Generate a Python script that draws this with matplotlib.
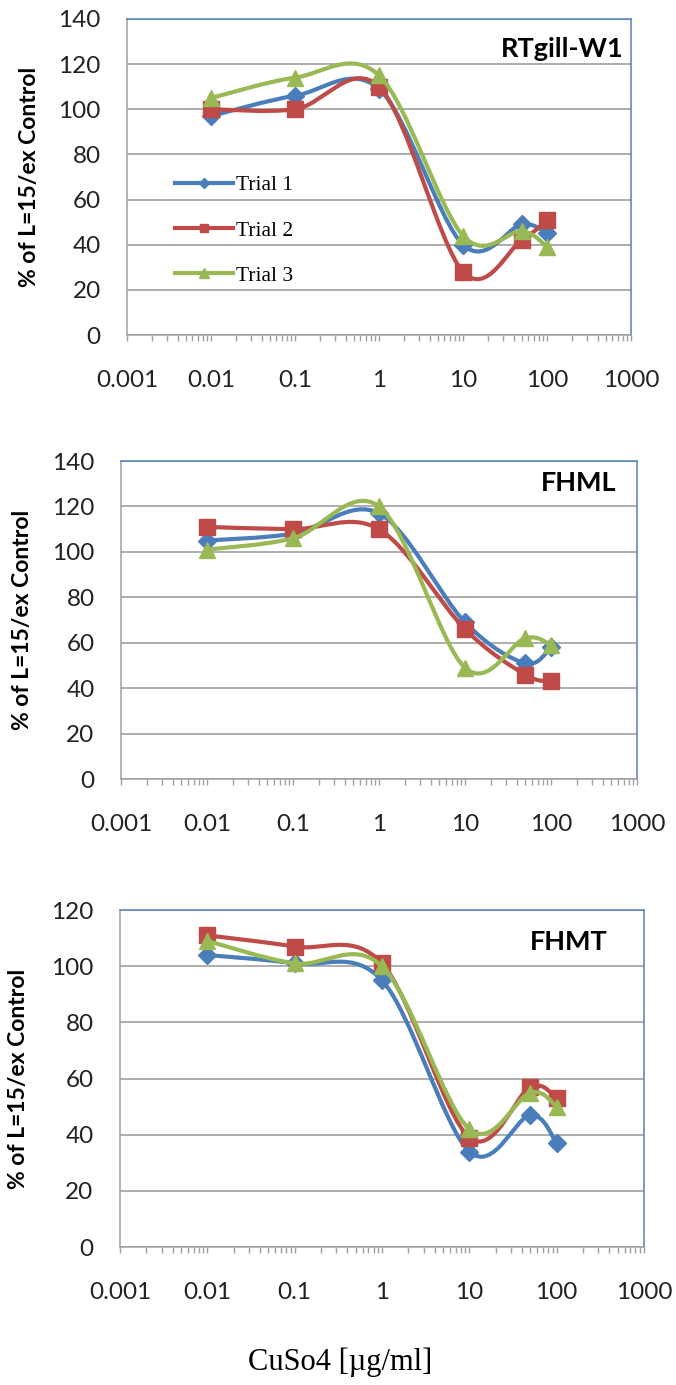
import numpy as np
import matplotlib
matplotlib.use("Agg")
from matplotlib import pyplot as plt
from matplotlib.path import Path
from matplotlib.patches import PathPatch
from matplotlib.lines import Line2D
from matplotlib.ticker import FixedLocator, NullFormatter

conc = [0.01, 0.1, 1, 10, 50, 100]

# RTgill-W1
rt_trial1 = [97, 106, 109, 40, 49, 45]
rt_trial2 = [100, 100, 110, 28, 42, 51]
rt_trial3 = [105, 114, 115, 44, 46, 39]

# FHML
fhml_trial1 = [105, 108, 117, 69, 51, 58]
fhml_trial2 = [111, 110, 110, 66, 46, 43]
fhml_trial3 = [101, 106, 120, 49, 62, 59]

# FHMT
fhmt_trial1 = [104, 101, 95, 34, 47, 37]
fhmt_trial2 = [111, 107, 101, 39, 57, 53]
fhmt_trial3 = [109, 101, 100, 42, 55, 50]

xticks = [0.001, 0.01, 0.1, 1, 10, 100, 1000]
xticklabels = ["0.001", "0.01", "0.1", "1", "10", "100", "1000"]
trial_names = ["Trial 1", "Trial 2", "Trial 3"]

colors = ["#4a7ebb", "#be4b48", "#98b954"]
markers = ["D", "s", "^"]
msizes = [9, 11, 12]

TICK_FONT = "Lato"
SERIF = "Liberation Serif"


def smooth_path(x, y):
    # catmull-rom style bezier through the points, built in log-x space
    u = np.log10(np.asarray(x, dtype=float))
    v = np.asarray(y, dtype=float)
    n = len(u)
    verts = [(x[0], y[0])]
    codes = [Path.MOVETO]
    for i in range(n - 1):
        i0 = max(i - 1, 0)
        i3 = min(i + 2, n - 1)
        c1u = u[i] + (u[i + 1] - u[i0]) / 6
        c1v = v[i] + (v[i + 1] - v[i0]) / 6
        c2u = u[i + 1] - (u[i3] - u[i]) / 6
        c2v = v[i + 1] - (v[i3] - v[i]) / 6
        verts += [(10 ** c1u, c1v), (10 ** c2u, c2v), (x[i + 1], y[i + 1])]
        codes += [Path.CURVE4] * 3
    return Path(verts, codes)


def draw_panel(ax, series, ymax, title, title_xy, label_x):
    ax.set_xscale("log")
    ax.set_xlim(0.001, 1000)
    ax.set_ylim(0, ymax)
    ax.set_yticks(np.arange(0, ymax + 1, 20))
    ax.yaxis.grid(True, color="#a0a0a0", lw=1.2)
    ax.set_axisbelow(True)

    for k, ys in enumerate(series):
        ax.add_patch(PathPatch(smooth_path(conc, ys), fill=False,
                               edgecolor=colors[k], lw=3.0,
                               capstyle="round", joinstyle="round",
                               zorder=3 + k))
        ax.plot(conc, ys, linestyle="none", marker=markers[k],
                ms=msizes[k], color=colors[k], mec=colors[k], zorder=3 + k)

    ax.xaxis.set_major_locator(FixedLocator(xticks))
    ax.set_xticklabels(xticklabels)
    ax.xaxis.set_minor_formatter(NullFormatter())
    ax.tick_params(axis="x", which="both", direction="out", length=4,
                   width=1, color="#a0a0a0", pad=21, labelsize=17.5)
    ax.tick_params(axis="y", length=0, pad=19, labelsize=17.5)
    for lab in ax.get_xticklabels() + ax.get_yticklabels():
        lab.set_fontfamily(TICK_FONT)
        lab.set_color("#222222")

    ax.spines["left"].set_color("#a0a0a0")
    ax.spines["bottom"].set_color("#a0a0a0")
    ax.spines["top"].set_color("#4f81bd")
    ax.spines["right"].set_color("#4f81bd")
    for s in ax.spines.values():
        s.set_linewidth(1.1)

    ax.set_ylabel("% of L=15/ex Control", fontfamily=TICK_FONT,
                  fontweight="bold", fontsize=16.5)
    ax.yaxis.set_label_coords(label_x, 0.5)
    ax.text(title_xy[0], title_xy[1], title, transform=ax.transAxes,
            ha="right", va="center", fontfamily=TICK_FONT,
            fontweight="bold", fontsize=19.5)


fig = plt.figure(figsize=(6.76, 13.85), dpi=100)

ax1 = fig.add_axes([0.1879, 0.7581, 0.7456, 0.2282])
ax2 = fig.add_axes([0.1790, 0.4375, 0.7633, 0.2296])
ax3 = fig.add_axes([0.1775, 0.0996, 0.7751, 0.2433])

draw_panel(ax1, [rt_trial1, rt_trial2, rt_trial3], 140, "RTgill-W1",
           (0.985, 0.905), -0.173)
draw_panel(ax2, [fhml_trial1, fhml_trial2, fhml_trial3], 140, "FHML",
           (0.96, 0.93), -0.171)
draw_panel(ax3, [fhmt_trial1, fhmt_trial2, fhmt_trial3], 120, "FHMT",
           (0.93, 0.905), -0.174)

handles = [Line2D([], [], color=colors[k], lw=3.0, marker=markers[k],
                  ms=msizes[k] * 0.55) for k in range(3)]
ax1.legend(handles, trial_names, loc="upper left",
           bbox_to_anchor=(0.095, 0.505), frameon=False,
           prop={"family": SERIF, "size": 15.5}, handlelength=2.7,
           handletextpad=0.12, labelspacing=1.17, borderpad=0,
           borderaxespad=0)

fig.text(0.503, 0.0165, "CuSo4 [\u00b5g/ml]", ha="center", va="center",
         fontfamily=SERIF, fontsize=22)

fig.savefig("out.png", dpi=100, facecolor="white")
